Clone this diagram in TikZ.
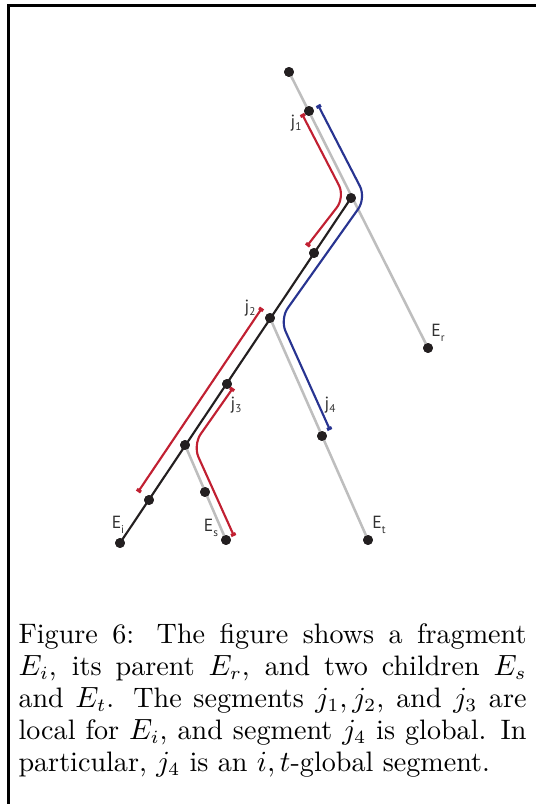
\documentclass[tikz,border=0pt]{standalone}
\usepackage{fontspec}
\newfontfamily\lblfont{PT Sans}
\usetikzlibrary{arrows.meta}
\definecolor{dotc}{RGB}{35,31,32}
\definecolor{grayl}{RGB}{190,190,190}
\definecolor{redl}{RGB}{193,32,50}
\definecolor{bluel}{RGB}{40,52,145}
\definecolor{lblc}{RGB}{50,50,50}
\begin{document}
\begin{tikzpicture}[x=0.375pt,y=-0.375pt,
  dot/.style={circle,fill=dotc,inner sep=0pt,minimum size=3.7pt},
  grayseg/.style={draw=grayl,line width=0.95pt},
  blackseg/.style={draw=dotc,line width=0.8pt},
  redseg/.style={draw=redl,line width=0.8pt,rounded corners=5pt,{Square[length=1.2pt,width=1.9pt]}-{Square[length=1.2pt,width=1.9pt]}},
  blueseg/.style={draw=bluel,line width=0.8pt,rounded corners=5pt,{Square[length=1.2pt,width=1.9pt]}-{Square[length=1.2pt,width=1.9pt]}},
  lbl/.style={font=\lblfont\fontsize{6.6}{7}\selectfont,text=lblc,inner sep=0pt},
  frame/.style={draw=black,line width=1pt}]
\useasboundingbox (0,0) rectangle (536,804);
% frame (top and left edges)
\coordinate (fbl) at (8.7,804);
\coordinate (ftl) at (8.7,5.3);
\coordinate (ftr) at (536,5.3);
\draw[frame] (fbl) -- (ftl) -- (ftr);
% dots
\node[dot] (p0) at (289,72) {};
\node[dot] (a) at (309,111) {};
\node[dot] (b) at (351,198) {};
\node[dot] (c) at (314,253) {};
\node[dot] (d) at (270,318) {};
\node[dot] (e) at (227,384) {};
\node[dot] (f) at (185,445) {};
\node[dot] (g) at (149,500) {};
\node[dot] (ei) at (120,543) {};
\node[dot] (er) at (428,348) {};
\node[dot] (h) at (322,436) {};
\node[dot] (et) at (368,540) {};
\node[dot] (k) at (205,492) {};
\node[dot] (es) at (226,540) {};
% tree edges
\path[grayseg] (p0.center) -- (er.center);
\path[grayseg] (d.center) -- (et.center);
\path[grayseg] (f.center) -- (es.center);
\path[blackseg] (b.center) -- (ei.center);
% redraw dots on top
\foreach \n in {p0,a,b,c,d,e,f,g,ei,er,h,et,k,es} {\fill[dotc] (\n) circle[radius=1.85pt];}
% segment paths
\coordinate (r1s) at (302,114);
\coordinate (r1m) at (345,197);
\coordinate (r1e) at (307,246);
\draw[redseg] (r1s) -- (r1m) -- (r1e);
\coordinate (bls) at (318,105);
\coordinate (blm1) at (366,198);
\coordinate (blm2) at (280,319);
\coordinate (ble) at (330,430);
\draw[blueseg] (bls) -- (blm1) -- (blm2) -- (ble);
\coordinate (r2s) at (262,308);
\coordinate (r2e) at (138,492);
\draw[redseg] (r2s) -- (r2e);
\coordinate (r3s) at (233,388);
\coordinate (r3m) at (193,445);
\coordinate (r3e) at (234,536);
\draw[redseg] (r3s) -- (r3m) -- (r3e);
% labels
\node[lbl] (lj1) at (296,123) {j\raisebox{-0.35ex}{\fontsize{4.2}{5}\selectfont 1}};
\node[lbl] (lj2) at (250,308) {j\raisebox{-0.35ex}{\fontsize{4.2}{5}\selectfont 2}};
\node[lbl] (lj3) at (236,405) {j\raisebox{-0.35ex}{\fontsize{4.2}{5}\selectfont 3}};
\node[lbl] (lj4) at (330,405) {j\raisebox{-0.35ex}{\fontsize{4.2}{5}\selectfont 4}};
\node[lbl] (ler) at (438,333) {E\raisebox{-0.5ex}{\fontsize{4.2}{5}\selectfont r}};
\node[lbl] (let) at (379,525) {E\raisebox{-0.5ex}{\fontsize{4.2}{5}\selectfont t}};
\node[lbl] (les) at (211,528) {E\raisebox{-0.5ex}{\fontsize{4.2}{5}\selectfont s}};
\node[lbl] (lei) at (118,525) {E\raisebox{-0.5ex}{\fontsize{4.2}{5}\selectfont i}};
% caption
\node[anchor=base west,inner sep=0pt,text width=190.5pt,align=justify,font=\fontsize{10.55}{12}\selectfont] (cap) at (18,643)
{Figure 6: The figure shows a fragment\linebreak
$E_i$, its parent $E_r$, and two children $E_s$\linebreak
and $E_t$. The segments $j_1, j_2$, and $j_3$ are\linebreak
local for $E_i$, and segment $j_4$ is global. In\linebreak
particular, $j_4$ is an $i,t$-global segment.};
\end{tikzpicture}
\end{document}
